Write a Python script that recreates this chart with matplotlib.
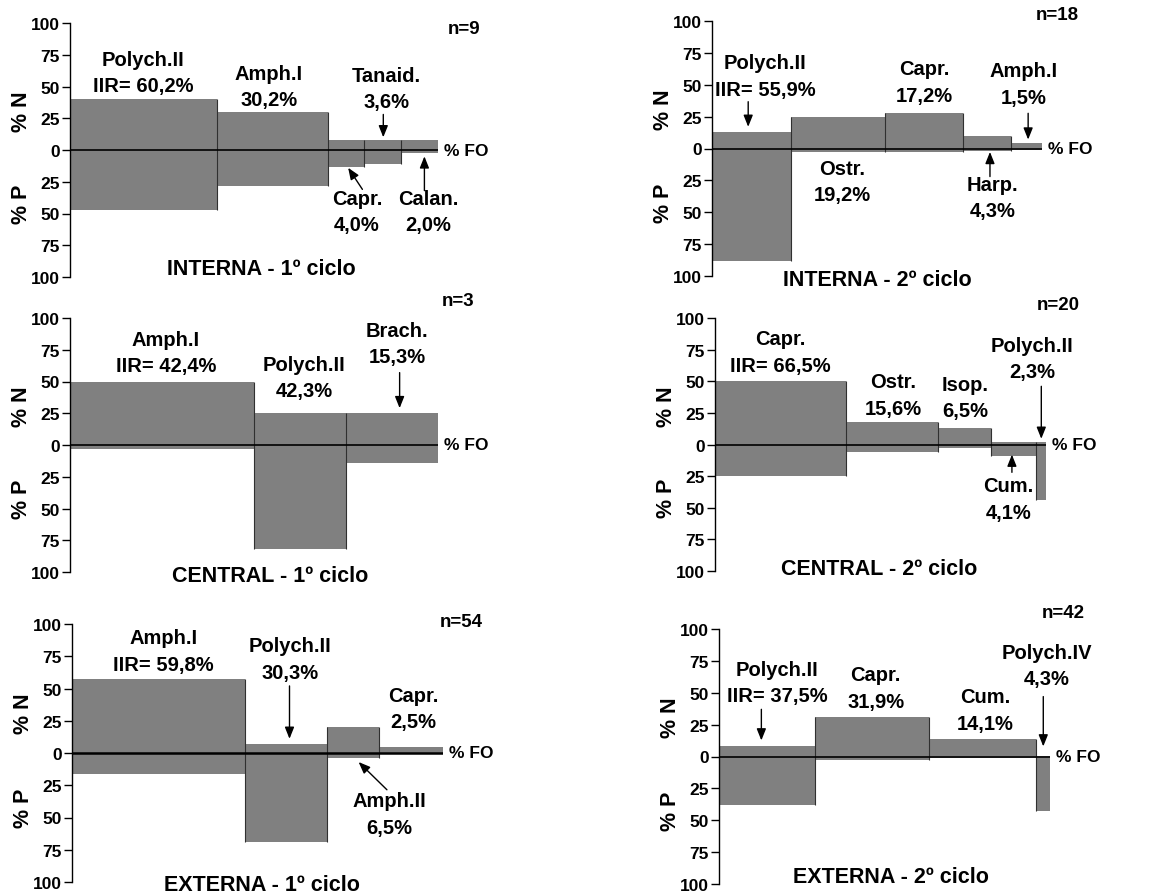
import matplotlib
matplotlib.use('Agg')
import matplotlib.pyplot as plt
import numpy as np

plt.rcParams['font.family'] = ['Liberation Sans', 'DejaVu Sans']
plt.rcParams['font.weight'] = 'bold'

# ---- data: %FO (bar width), %N (up), %P (down), IIR labels ----
int1_taxa = ['Polych.II', 'Amph.I', 'Capr.', 'Tanaid.', 'Calan.']
int1_fo = [44.4, 33.3, 11.1, 11.1, 11.1]
int1_n = [40, 30, 8, 8, 8]
int1_p = [47, 28, 13, 11, 2.5]
int1_iir = ['60,2%', '30,2%', '4,0%', '3,6%', '2,0%']

int2_taxa = ['Polych.II', 'Ostr.', 'Capr.', 'Harp.', 'Amph.I']
int2_fo = [27.8, 33.3, 27.8, 16.7, 11.1]
int2_n = [13, 25, 28, 10, 4]
int2_p = [88, 3, 3, 2, 1.3]
int2_iir = ['55,9%', '19,2%', '17,2%', '4,3%', '1,5%']

cen1_taxa = ['Amph.I', 'Polych.II', 'Brach.']
cen1_fo = [66.7, 33.3, 33.3]
cen1_n = [50, 25, 25]
cen1_p = [3, 82, 14]
cen1_iir = ['42,4%', '42,3%', '15,3%']

cen2_taxa = ['Capr.', 'Ostr.', 'Isop.', 'Cum.', 'Polych.II']
cen2_fo = [67, 47, 27, 23, 5]
cen2_n = [50, 18, 13, 2, 2]
cen2_p = [25, 6, 3, 9, 44]
cen2_iir = ['66,5%', '15,6%', '6,5%', '4,1%', '2,3%']

ext1_taxa = ['Amph.I', 'Polych.II', 'Amph.II', 'Capr.']
ext1_fo = [61, 29, 18.5, 22.5]
ext1_n = [57, 7, 20, 4.5]
ext1_p = [16, 69, 4, 1]
ext1_iir = ['59,8%', '30,3%', '6,5%', '2,5%']

ext2_taxa = ['Polych.II', 'Capr.', 'Cum.', 'Polych.IV']
ext2_fo = [33, 39, 36.5, 4.8]
ext2_n = [8, 31, 14, 0.5]
ext2_p = [38, 2.5, 1.5, 43]
ext2_iir = ['37,5%', '31,9%', '14,1%', '4,3%']

titles = ['INTERNA - 1º ciclo', 'INTERNA - 2º ciclo',
          'CENTRAL - 1º ciclo', 'CENTRAL - 2º ciclo',
          'EXTERNA - 1º ciclo', 'EXTERNA - 2º ciclo']
n_labels = ['n=9', 'n=18', 'n=3', 'n=20', 'n=54', 'n=42']

panels = [
    (int1_taxa, int1_fo, int1_n, int1_p, int1_iir),
    (int2_taxa, int2_fo, int2_n, int2_p, int2_iir),
    (cen1_taxa, cen1_fo, cen1_n, cen1_p, cen1_iir),
    (cen2_taxa, cen2_fo, cen2_n, cen2_p, cen2_iir),
    (ext1_taxa, ext1_fo, ext1_n, ext1_p, ext1_iir),
    (ext2_taxa, ext2_fo, ext2_n, ext2_p, ext2_iir),
]

# ---- layout (pixels of the 1163x895 figure): left, right, top, bottom ----
W, H = 1163, 895
boxes = [(70, 438, 24, 278), (712, 1042, 22, 277),
         (70, 438, 319, 573), (715, 1046, 319, 572),
         (72, 443, 625, 883), (719, 1050, 630, 885)]
# label text position (x, y) and optional arrow (tail x, tail y, tip x, tip y)
label_pos = [
    [(22, 61, None), (60, 50, None), (86.6, -48.6, (88.2, -31, 83.9, -14)),
     (95.4, 48.4, (94.5, 28, 94.5, 10)), (108, -48.6, (106.9, -32, 106.9, -5))],
    [(18.7, 57, (12.8, 36.7, 12.8, 17)), (46.1, -26, None), (75, 52, None),
     (99.2, -38.4, (98.3, -22, 98.3, -2.7)), (110.3, 50.6, (111.8, 27.6, 111.8, 7))],
    [(34.7, 73, None), (84.7, 53, None), (118.5, 80, (119.4, 57, 119.4, 29))],
    [(33.6, 73, None), (91.2, 39, None), (127.7, 37, None),
     (149.9, -43, (151.6, -22, 151.6, -8)), (161.8, 68, (166.6, 46, 166.6, 4.5))],
    [(32.3, 79, None), (77.1, 73, (76.8, 52, 76.8, 11)), (112.1, -47.4, (111.2, -28.5, 101.2, -7)),
     (120.6, 34.6, None)],
    [(19.9, 58, (14.5, 37, 14.5, 12.6)), (53.6, 53.6, None), (91, 36.6, None),
     (112.3, 71.3, (111, 47, 111, 7.9))],
]
title_pos = [(0.52, 0.035), (0.50, -0.013), (0.543, -0.015),
             (0.496, 0.008), (0.513, -0.008), (0.52, 0.03)]
n_pos = [(1.114, 0.98), (1.112, 1.026), (1.10, 1.067),
         (1.103, 1.055), (1.108, 1.008), (1.106, 1.063)]

fig = plt.figure(figsize=(W / 100, H / 100), dpi=100)
bar_color = '#808080'

for k, (taxa, fo, pn, pp, iir) in enumerate(panels):
    l, r, t, b = boxes[k]
    ax = fig.add_axes([l / W, 1 - b / H, (r - l) / W, (b - t) / H])
    fo = np.array(fo)
    pn = np.array(pn)
    pp = np.array(pp)
    left = np.concatenate([[0], np.cumsum(fo)[:-1]])
    total = fo.sum()

    ax.bar(left, pn, width=fo, align='edge', color=bar_color, linewidth=0)
    ax.bar(left, -pp, width=fo, align='edge', color=bar_color, linewidth=0)
    # thin lines at bar boundaries
    for i in range(1, len(fo)):
        ax.vlines(left[i], -max(pp[i - 1], pp[i]), max(pn[i - 1], pn[i]),
                  color='#303030', lw=0.8)
    ax.plot([0, total], [0, 0], color='black', lw=1.8 if k == 4 else 1.2)
    ax.annotate('% FO', xy=(total, 0), xytext=(4, 0), textcoords='offset points',
                ha='left', va='center', fontsize=12.5, fontweight='bold')

    ax.set_xlim(0, total)
    ax.set_ylim(-100, 100)
    ticks = np.arange(-100, 101, 25)
    ax.set_yticks(ticks)
    ax.set_yticklabels([str(abs(v)) for v in ticks], fontsize=12.5, fontweight='bold')
    ax.tick_params(axis='y', length=6, width=1, pad=1.5)
    ax.set_xticks([])
    for s in ['top', 'right', 'bottom']:
        ax.spines[s].set_visible(False)
    ax.spines['left'].set_linewidth(1)
    ax.patch.set_visible(False)

    ax.annotate('% N', xy=(0, 31), xycoords=('axes fraction', 'data'), xytext=(-35, 0),
                textcoords='offset points', rotation=90, ha='center', va='center',
                fontsize=15.5, fontweight='bold')
    ax.annotate('% P', xy=(0, -42), xycoords=('axes fraction', 'data'), xytext=(-35, 0),
                textcoords='offset points', rotation=90, ha='center', va='center',
                fontsize=15.5, fontweight='bold')

    for i, name in enumerate(taxa):
        x, y, arr = label_pos[k][i]
        pct = ('IIR= ' + iir[i]) if i == 0 else iir[i]
        ax.text(x, y, name + '\n' + pct, ha='center', va='center', fontsize=14.5,
                fontweight='bold', linespacing=1.5, clip_on=False)
        if arr is not None:
            ax.annotate('', xy=(arr[2], arr[3]), xytext=(arr[0], arr[1]),
                        arrowprops=dict(arrowstyle='-|>,head_length=0.5,head_width=0.2',
                                        color='black', lw=1, mutation_scale=14,
                                        shrinkA=0, shrinkB=0),
                        annotation_clip=False)

    ax.text(title_pos[k][0], title_pos[k][1], titles[k], transform=ax.transAxes,
            ha='center', va='center', fontsize=15.5, fontweight='bold')
    ax.text(n_pos[k][0], n_pos[k][1], n_labels[k], transform=ax.transAxes,
            ha='right', va='center', fontsize=13.5, fontweight='bold')

fig.savefig('out.png', dpi=100)
